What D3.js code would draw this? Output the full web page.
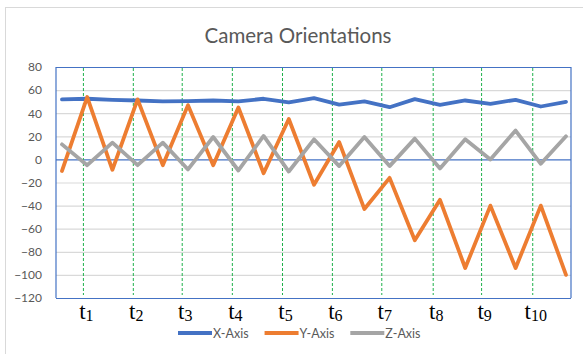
<!DOCTYPE html>
<html>
<head>
<meta charset="utf-8">
<script src="https://cdn.jsdelivr.net/npm/d3@7"></script>
<style>
  html, body { margin: 0; padding: 0; background: #ffffff; }
  svg { display: block; }
</style>
</head>
<body>
<svg id="chart" width="583" height="354"></svg>
<script>
// Sample index along the recording
const samples = [1, 2, 3, 4, 5, 6, 7, 8, 9, 10, 11, 12, 13, 14, 15, 16, 17, 18, 19, 20, 21];

// Orientation angles per axis
const xAxisValues = [52, 52.5, 51.6, 51, 50.2, 50.4, 51, 50.2, 52.5, 49.3, 53, 47.5, 50.2, 45.2, 52.2, 47.2, 51, 48.1, 51.6, 45.8, 49.8];
const yAxisValues = [-10, 54, -9, 52, -5, 47, -5, 45, -12, 35, -22, 15, -43, -16, -70, -35, -94, -40, -94, -40, -100];
const zAxisValues = [13, -5, 14.5, -5, 14.5, -8.7, 19.4, -9.6, 20.3, -10.5, 17.4, -5.8, 19.4, -5.8, 18, -7.8, 17.4, 0, 25, -3.8, 20];

// Time markers t1..t10 (position in sample units)
const markerPositions = [1.85, 3.83, 5.77, 7.76, 9.75, 11.73, 13.69, 15.73, 17.65, 19.68];
const markerLabels = ["1", "2", "3", "4", "5", "6", "7", "8", "9", "10"];

const yTicks = [80, 60, 40, 20, 0, -20, -40, -60, -80, -100, -120];

const series = [
  { name: "X-Axis", values: xAxisValues, color: "#4472C4" },
  { name: "Y-Axis", values: yAxisValues, color: "#ED7D31" },
  { name: "Z-Axis", values: zAxisValues, color: "#A5A5A5" }
];

const svg = d3.select("#chart");
const plot = { left: 56, right: 571, top: 67, bottom: 298 };

const x = d3.scaleLinear().domain([1, 21]).range([62, 566]);
const y = d3.scaleLinear().domain([-120, 80]).range([plot.bottom, plot.top]);

// Chart frame
svg.append("rect")
  .attr("x", 5.5).attr("y", 7.5)
  .attr("width", 600).attr("height", 400)
  .attr("fill", "#ffffff").attr("stroke", "#d9d9d9").attr("stroke-width", 1);

// Title
svg.append("text")
  .attr("x", 298).attr("y", 43)
  .attr("text-anchor", "middle")
  .attr("font-family", "Lato, 'Open Sans', sans-serif")
  .attr("font-size", 20.5)
  .attr("fill", "#595959")
  .text("Camera Orientations");

// Horizontal gridlines
const grid = svg.append("g")
  .attr("transform", `translate(${plot.left},0)`)
  .call(d3.axisLeft(y).tickValues(yTicks).tickSize(-(plot.right - plot.left)).tickFormat(""));
grid.select(".domain").remove();
grid.selectAll(".tick line")
  .attr("stroke", d => (d === 0 || d === 80 || d === -120) ? "#4472C4" : "#d9d9d9")
  .attr("stroke-width", 1.2);

// Plot area side borders
svg.append("line")
  .attr("x1", plot.left).attr("x2", plot.left)
  .attr("y1", plot.top).attr("y2", plot.bottom)
  .attr("stroke", "#4472C4").attr("stroke-width", 1.2);
svg.append("line")
  .attr("x1", plot.right).attr("x2", plot.right)
  .attr("y1", plot.top).attr("y2", plot.bottom)
  .attr("stroke", "#4472C4").attr("stroke-width", 1.2);

// Y axis labels
const yAxis = svg.append("g")
  .attr("transform", `translate(${plot.left},0)`)
  .call(d3.axisLeft(y).tickValues(yTicks).tickSize(0).tickPadding(14));
yAxis.select(".domain").remove();
yAxis.selectAll("text")
  .attr("font-family", "Lato, 'Open Sans', sans-serif")
  .attr("font-size", 12)
  .attr("fill", "#595959");

// Dashed time markers
svg.append("g").selectAll("line")
  .data(markerPositions)
  .join("line")
  .attr("x1", d => x(d)).attr("x2", d => x(d))
  .attr("y1", plot.top + 1).attr("y2", plot.bottom - 3)
  .attr("stroke", "#1fb14b")
  .attr("stroke-width", 1)
  .attr("stroke-dasharray", "3,2");

// Series lines
const line = d3.line()
  .x((d, i) => x(samples[i]))
  .y(d => y(d));

svg.append("g").selectAll("path")
  .data(series)
  .join("path")
  .attr("d", s => line(s.values))
  .attr("fill", "none")
  .attr("stroke", s => s.color)
  .attr("stroke-width", 3.8)
  .attr("stroke-linejoin", "round")
  .attr("stroke-linecap", "round");

// Marker labels t1..t10
const tLabels = svg.append("g").selectAll("text")
  .data(markerPositions)
  .join("text")
  .attr("x", d => x(d) + 3)
  .attr("y", 319)
  .attr("text-anchor", "middle")
  .attr("font-family", "'Liberation Serif', 'DejaVu Serif', serif")
  .attr("fill", "#000000");
tLabels.append("tspan").attr("font-size", 23).text("t");
tLabels.append("tspan").attr("font-size", 16).attr("dy", 2).text((d, i) => markerLabels[i]);

// Legend
const legend = svg.append("g");
let cursor = 178;
series.forEach(s => {
  legend.append("line")
    .attr("x1", cursor).attr("x2", cursor + 34)
    .attr("y1", 333).attr("y2", 333)
    .attr("stroke", s.color).attr("stroke-width", 3.8);
  const t = legend.append("text")
    .attr("x", cursor + 35).attr("y", 337.5)
    .attr("font-family", "Lato, 'Open Sans', sans-serif")
    .attr("font-size", 12.5)
    .attr("fill", "#595959")
    .text(s.name);
  cursor += 35 + t.node().getComputedTextLength() + 16;
});
</script>
</body>
</html>
